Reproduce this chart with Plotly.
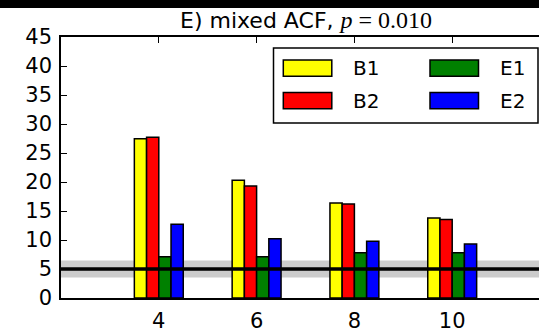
import plotly.graph_objects as go

# ---- data ----
lags = [4, 6, 8, 10]
B1 = [27.45, 20.3, 16.4, 13.8]
B2 = [27.7, 19.3, 16.2, 13.55]
E1 = [7.1, 7.1, 7.8, 7.8]
E2 = [12.7, 10.2, 9.8, 9.3]
series_names = ["B1", "B2", "E1", "E2"]
series_vals = [B1, B2, E1, E2]
series_colors = ["#ffff00", "#ff0000", "#008000", "#0000ff"]
ref_level = 5.0
band_lo, band_hi = 3.55, 6.45
yticks = [0, 5, 10, 15, 20, 25, 30, 35, 40, 45]

FONT = "DejaVu Sans"
W, H = 539, 333
ML, MR, MT, MB = 61, 0, 37, 26
PW = W - ML - MR
PH = H - MT - MB

fig = go.Figure()
bw = 0.25
for i, (nm, vals, col) in enumerate(zip(series_names, series_vals, series_colors)):
    fig.add_trace(go.Bar(
        x=lags, y=vals, name=nm, width=bw, offset=-0.5 + i * bw,
        marker=dict(color=col, line=dict(color="black", width=1.5)),
        showlegend=False,
    ))
# empty helper trace so the label-only y axis is drawn
fig.add_trace(go.Scatter(x=[None], y=[None], yaxis="y2", mode="markers",
                         showlegend=False, hoverinfo="skip"))

# gray band (below bars) and reference line (above bars)
fig.add_shape(type="rect", xref="paper", yref="y", x0=0, x1=1, y0=band_lo, y1=band_hi,
              fillcolor="#cccccc", line=dict(width=0), layer="below")
fig.add_shape(type="line", xref="paper", yref="y", x0=0, x1=1, y0=ref_level, y1=ref_level,
              line=dict(color="black", width=3.5), layer="above")

def px_x(p):
    return (p - ML) / PW
def px_y(p):
    return (H - MB - p) / PH

# black strip at top of image
fig.add_shape(type="rect", xref="paper", yref="paper", x0=px_x(-5), x1=px_x(W + 5),
              y0=px_y(7), y1=px_y(-5), fillcolor="black", line=dict(width=0))

# title
fig.add_annotation(
    xref="paper", yref="paper", x=px_x(306), y=px_y(19), xanchor="center", yanchor="middle",
    text="E) mixed ACF, <span style=\"font-family:'Liberation Serif';font-size:24px\"><i>p</i> = 0.010</span>",
    showarrow=False, font=dict(family=FONT, size=22, color="black"),
)

# manual legend (matplotlib-style, 2 columns)
fig.add_shape(type="rect", xref="paper", yref="paper", x0=px_x(273.5), x1=px_x(538),
              y0=px_y(126), y1=px_y(48.5), fillcolor="white", line=dict(color="black", width=1.5))
leg_pos = [(283.3, 60.7), (283.3, 94.3), (430, 60.7), (430, 94.3)]
for (lx, ly), nm, col in zip(leg_pos, series_names, series_colors):
    fig.add_shape(type="rect", xref="paper", yref="paper", x0=px_x(lx), x1=px_x(lx + 48.5),
                  y0=px_y(ly + 17), y1=px_y(ly), fillcolor=col, line=dict(color="black", width=1.5))
    fig.add_annotation(xref="paper", yref="paper", x=px_x(lx + 68), y=px_y(ly + 8.5),
                       xanchor="left", yanchor="middle", text=nm, showarrow=False,
                       font=dict(family=FONT, size=20, color="black"))

fig.update_layout(
    width=W, height=H,
    margin=dict(l=ML, r=MR, t=MT, b=MB, pad=0),
    plot_bgcolor="white", paper_bgcolor="white",
    font=dict(family=FONT, size=21, color="black"),
    barmode="overlay",
    yaxis2=dict(overlaying="y", anchor="free", position=0, side="left", range=[0, 45],
                tickvals=yticks, ticks="", showline=False, showgrid=False, zeroline=False,
                ticklabelstandoff=9, tickfont=dict(family=FONT, size=21, color="black")),
)
fig.update_xaxes(range=[2, 2 + PW / 48.9], tickvals=lags, ticktext=[str(v) for v in lags],
                 ticks="inside", ticklen=6, tickcolor="black", tickwidth=1,
                 showline=True, linecolor="black", linewidth=1.5, mirror="ticks",
                 showgrid=False, zeroline=False, ticklabelstandoff=3,
                 tickfont=dict(family=FONT, size=21, color="black"))
fig.update_layout(yaxis=dict(range=[0, 45], tickvals=yticks, ticks="inside", ticklen=6,
                             tickcolor="black", tickwidth=1, showline=True, linecolor="black",
                             linewidth=1.5, showgrid=False, zeroline=False, showticklabels=False))

fig.write_html("out.html")
